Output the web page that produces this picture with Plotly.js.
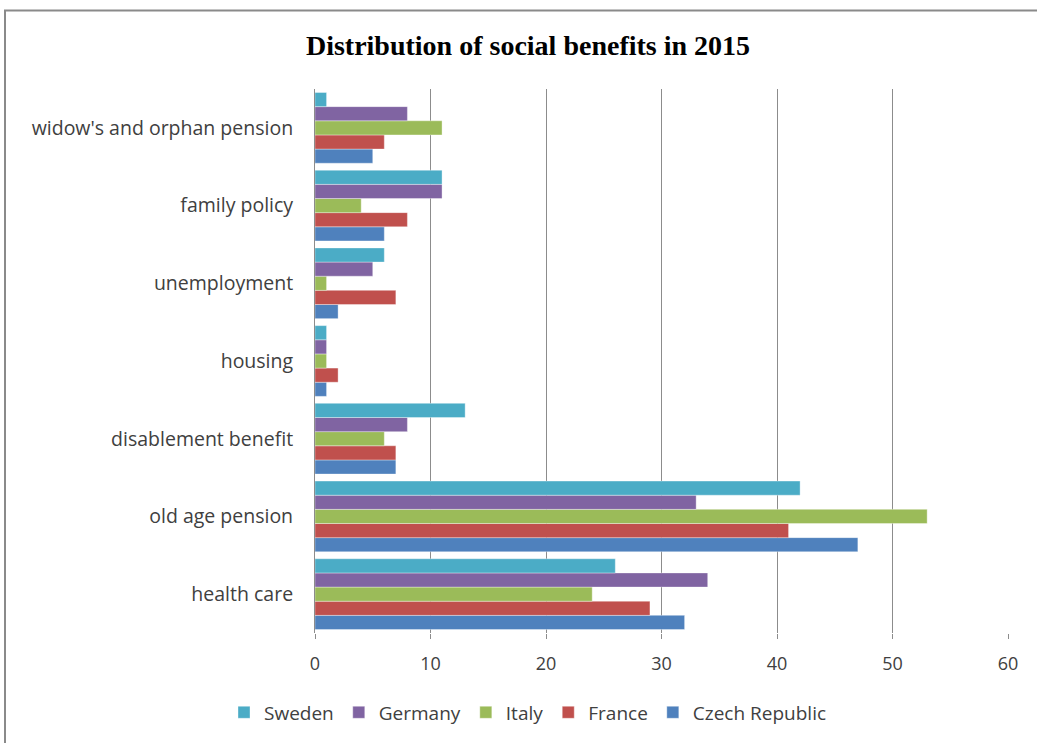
<!DOCTYPE html>
<html><head><meta charset="utf-8">
<script src="https://cdn.plot.ly/plotly-3.0.1.min.js"></script>
<style>html,body{margin:0;padding:0;background:#fff}#chart{width:1037px;height:743px}</style>
</head><body><div id="chart"></div>
<script>
const categories = ["health care","old age pension","disablement benefit","housing","unemployment","family policy","widow's and orphan pension"];
const sweden  = [26, 42, 13, 1, 6, 11, 1];
const germany = [34, 33, 8, 1, 5, 11, 8];
const italy   = [24, 53, 6, 1, 1, 4, 11];
const france  = [29, 41, 7, 2, 7, 8, 6];
const czech   = [32, 47, 7, 1, 2, 6, 5];
const xTicks = [0,10,20,30,40,50,60];

const series = [
  {name:"Czech Republic", values:czech, color:"#4F81BD"},
  {name:"France", values:france, color:"#C0504D"},
  {name:"Italy", values:italy, color:"#9BBB59"},
  {name:"Germany", values:germany, color:"#8064A2"},
  {name:"Sweden", values:sweden, color:"#4BACC6"}
];
const traces = series.map(s => ({
  type:"bar", orientation:"h", name:s.name, y:categories, x:s.values,
  marker:{color:s.color, line:{color:"rgba(255,255,255,0.6)", width:0.6}},
  hoverinfo:"x+name"
}));
const pl = 315, pr = 1008, pt = 89, pb = 637;
const pw = pr - pl, ph = pb - pt;
const layout = {
  width:1037, height:743,
  margin:{l:pl, r:1037-pr, t:pt, b:743-pb},
  paper_bgcolor:"#fff", plot_bgcolor:"#fff",
  barmode:"group", bargap:0.09, bargroupgap:0.0,
  title:{text:"<b>Distribution of social benefits in 2015</b>", x:528/1037, xanchor:"center", y:1-45/743, yanchor:"middle",
         font:{family:"Liberation Serif, Times New Roman, serif", size:28, color:"#000"}},
  font:{family:"Open Sans, sans-serif", color:"#404040"},
  xaxis:{range:[0,60], tickvals:xTicks, ticktext:xTicks.map(String), showgrid:true, gridcolor:"#8c8c8c", gridwidth:1,
         zeroline:false, showline:false, ticks:"outside", ticklen:5, tickcolor:"#8c8c8c",
         tickfont:{size:18, color:"#404040", family:"Open Sans, sans-serif"}, ticklabelstandoff:9, fixedrange:true},
  yaxis:{type:"category", categoryorder:"array", categoryarray:categories, showline:true, linecolor:"#8c8c8c", linewidth:1,
         ticks:"", showgrid:false, tickfont:{size:19.5, color:"#404040", family:"Open Sans, sans-serif"}, ticklabelstandoff:17, fixedrange:true},
  legend:{orientation:"h", traceorder:"reversed", x:(528-pl)/pw, xanchor:"center", y:-(717-pb)/ph, yanchor:"middle",
          font:{size:19, color:"#404040", family:"Open Sans, sans-serif"}, itemwidth:20, tracegroupgap:0},
  shapes:[{type:"rect", xref:"paper", yref:"paper", x0:(5-pl)/pw, x1:(1045-pl)/pw, y0:(pb-760)/ph, y1:(pb-10)/ph,
           line:{color:"#8a8a8a", width:2}, fillcolor:"rgba(0,0,0,0)", layer:"below"}],
  showlegend:true
};
Plotly.newPlot("chart", traces, layout, {displayModeBar:false, staticPlot:true});
</script></body></html>
